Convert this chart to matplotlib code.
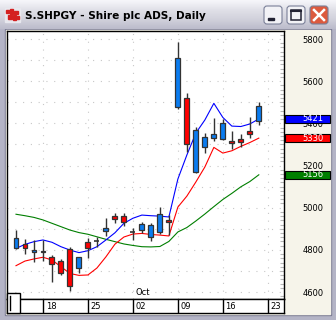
import numpy as np
import matplotlib
matplotlib.use("Agg")
import matplotlib.pyplot as plt
from matplotlib.patches import Rectangle, FancyBboxPatch

# trading days shown (Sep 13 - Oct 20, 2006)
dates = ["2006-09-13", "2006-09-14", "2006-09-15", "2006-09-18", "2006-09-19",
         "2006-09-20", "2006-09-21", "2006-09-22", "2006-09-25", "2006-09-26",
         "2006-09-27", "2006-09-28", "2006-09-29", "2006-10-02", "2006-10-03",
         "2006-10-04", "2006-10-05", "2006-10-06", "2006-10-09", "2006-10-10",
         "2006-10-11", "2006-10-12", "2006-10-13", "2006-10-16", "2006-10-17",
         "2006-10-18", "2006-10-19", "2006-10-20"]

opens = [4807, 4826, 4788, 4790, 4767, 4748, 4803, 4712, 4836, 4843,
         4891, 4960, 4960, 4886, 4894, 4862, 4886, 4942, 5479, 5519,
         5168, 5286, 5329, 5324, 5316, 5326, 5364, 5412]
highs = [4894, 4850, 4847, 4847, 4776, 4755, 4815, 4767, 4855, 4862,
         4950, 4973, 4973, 4905, 4933, 4926, 5002, 4965, 5787, 5542,
         5384, 5353, 5424, 5421, 5364, 5349, 5429, 5500]
lows = [4803, 4779, 4744, 4747, 4649, 4681, 4606, 4692, 4760, 4815,
        4866, 4926, 4913, 4847, 4878, 4843, 4875, 4870, 5468, 5265,
        5163, 5258, 5318, 5319, 5278, 5289, 5329, 5391]
closes = [4855, 4807, 4799, 4796, 4733, 4689, 4628, 4765, 4807, 4843,
          4902, 4945, 4931, 4886, 4923, 4918, 4970, 4930, 5708, 5302,
          5368, 5334, 5349, 5402, 5305, 5310, 5351, 5482]

ma_blue = [4807, 4826, 4839, 4847, 4836, 4815, 4799, 4787, 4796, 4815,
           4847, 4881, 4926, 4950, 4965, 4962, 4960, 4956, 5136, 5250,
           5354, 5416, 5495, 5428, 5387, 5385, 5397, 5421]
ma_red = [4725, 4747, 4757, 4765, 4752, 4720, 4688, 4679, 4681, 4714,
          4767, 4827, 4861, 4875, 4878, 4873, 4870, 4866, 5003, 5055,
          5122, 5193, 5286, 5259, 5270, 5291, 5309, 5330]
ma_green = [4969, 4962, 4954, 4942, 4926, 4910, 4894, 4882, 4874, 4862,
            4850, 4839, 4828, 4821, 4815, 4814, 4816, 4840, 4885, 4906,
            4937, 4970, 5005, 5039, 5068, 5099, 5124, 5156]

week_ticks = ["2006-09-18", "2006-09-25", "2006-10-02", "2006-10-09",
              "2006-10-16", "2006-10-23"]
week_labels = ["18", "25", "02", "09", "16", "23"]
y_ticks = [4600, 4800, 5000, 5200, 5400, 5600, 5800]

W, H = 336, 320
BLUE, RED, GREEN = "#0000ff", "#ff0000", "#007f00"
CANDLE_UP, CANDLE_DN = "#0a7cf0", "#ff0000"
CREAM = "#f6f4ea"

def fx(x):
    return x / W

def fy(y):
    return 1 - y / H

fig = plt.figure(figsize=(W / 100, H / 100), dpi=100)

# window chrome, drawn in pixel coordinates
bg = fig.add_axes([0, 0, 1, 1])
bg.set_xlim(0, W)
bg.set_ylim(H, 0)
bg.axis("off")
bg.add_patch(Rectangle((0, 0), W, H, color="#b4b4c6"))
bg.add_patch(Rectangle((5, 29), W - 10, H - 34, color="#7c7c94"))
bg.add_patch(Rectangle((6, 30), W - 12, H - 36, color=CREAM))
grad = np.linspace(0, 1, 30).reshape(-1, 1)
bg.imshow(grad, extent=(0, W, 29, 0), cmap=matplotlib.colors.LinearSegmentedColormap.from_list(
    "tb", ["#f6f6fa", "#e0e0e8", "#d2d2dc", "#bcbccc"]), aspect="auto", zorder=1)
# icon
bg.add_patch(Rectangle((5, 8), 15, 14, color="#e8e8ee", zorder=2))
for (ix, iy, iw, ih) in [(6, 10, 3, 3), (10, 9, 3, 5), (14, 11, 4, 3), (8, 15, 4, 4), (13, 15, 3, 5), (17, 16, 2, 3)]:
    bg.add_patch(Rectangle((ix, iy), iw, ih, color="#d42020", zorder=3))
bg.text(25, 16, "S.SHPGY - Shire plc ADS, Daily", fontsize=7.6, fontweight="bold",
        ha="left", va="center", color="black", zorder=3)
# buttons
for bx, face in [(264, "#f2f2f6"), (287, "#f2f2f6"), (310, "#dc5a3e")]:
    bg.add_patch(FancyBboxPatch((bx, 6), 18, 18, boxstyle="round,pad=0,rounding_size=3",
                                fc=face, ec="#7a7f98", lw=0.8, zorder=3))
bg.add_patch(Rectangle((268, 18), 6, 2, color="#222233", zorder=4))
bg.add_patch(Rectangle((291, 10), 10, 10, fill=False, ec="#222233", lw=1.1, zorder=4))
bg.plot([291, 301], [11, 11], color="#222233", lw=1.5, zorder=4)
bg.plot([314, 324], [10, 20], color="white", lw=1.8, zorder=4)
bg.plot([314, 324], [20, 10], color="white", lw=1.8, zorder=4)

# main price panel
x = np.arange(len(dates))
d0 = np.datetime64(dates[0])
tick_pos = [np.busday_count(d0, np.datetime64(d)) for d in week_ticks]
oct_pos = np.busday_count(d0, np.datetime64("2006-10-02"))

ax = fig.add_axes([fx(7), fy(299), fx(284 - 7), (299 - 31) / H])
ax.set_facecolor("white")
ax.set_xlim(-1.0, 29.8)
ax.set_ylim(4567, 5838)
for s in ax.spines.values():
    s.set_color("black")
    s.set_linewidth(1)

for yv in range(4600, 5900, 100):
    ax.axhline(yv, color="#c8c8c8", lw=0.8, ls=(0, (1, 6)), zorder=0)
for tp in tick_pos:
    ax.axvline(tp, color="#c8c8c8", lw=0.8, ls=(0, (1, 6)), zorder=0)

ax.plot(x, ma_green, color=GREEN, lw=0.8, zorder=2)
ax.plot(x, ma_red, color=RED, lw=0.8, zorder=2)
ax.plot(x, ma_blue, color=BLUE, lw=0.8, zorder=2)

bw = 0.55
for i in range(len(dates)):
    o, h, l, c = opens[i], highs[i], lows[i], closes[i]
    ax.vlines(x[i], l, h, color="#333333", lw=1.0, zorder=3)
    lo, hi = min(o, c), max(o, c)
    face = CANDLE_UP if c > o else CANDLE_DN
    if hi - lo < 6:
        ax.hlines((o + c) / 2, x[i] - bw / 2, x[i] + bw / 2, color="#333333", lw=1.2, zorder=4)
    else:
        ax.add_patch(Rectangle((x[i] - bw / 2, lo), bw, hi - lo, fc=face,
                               ec="#333333", lw=0.9, zorder=4))

ax.text(oct_pos + 0.3, 4575, "Oct", fontsize=6, ha="left", va="bottom", color="black")

ax.set_xticks([])
ax.yaxis.tick_right()
ax.set_yticks(y_ticks)
ax.set_yticklabels([str(v) for v in y_ticks], fontsize=6)
ax.set_yticks(np.arange(4580, 5840, 20), minor=True)
ax.tick_params(axis="y", which="major", length=0, pad=13.5)
ax.tick_params(axis="y", which="minor", direction="in", length=3, color="#b8b8b8", width=0.8)

# date strip
ax2 = fig.add_axes([fx(7), fy(313), fx(284 - 7), (313 - 299) / H])
ax2.set_facecolor("white")
ax2.set_xlim(ax.get_xlim())
ax2.set_ylim(0, 1)
ax2.set_xticks([])
ax2.set_yticks([])
for s in ax2.spines.values():
    s.set_color("black")
    s.set_linewidth(1)
for tp, lab in zip(tick_pos, week_labels):
    ax2.axvline(tp, ymin=0.1, ymax=1, color="black", lw=1)
    ax2.text(tp + 0.3, 0.45, lab, fontsize=6, ha="left", va="center", color="black")

# overlay in pixel coordinates: last-value boxes and scroll box
top = fig.add_axes([0, 0, 1, 1], zorder=10)
top.set_xlim(0, W)
top.set_ylim(H, 0)
top.axis("off")
top.patch.set_alpha(0)
for val, col in [(ma_blue[-1], BLUE), (ma_red[-1], RED), (ma_green[-1], GREEN)]:
    yp = H - ax.transData.transform((0, val))[1]
    top.add_patch(Rectangle((285, yp - 4.2), 45, 8.4, fc=col, ec="black", lw=0.8))
    top.text(302.5, yp, f"{val}", fontsize=6, color="white", ha="left", va="center")

top.add_patch(Rectangle((7, 293), 13, 20, fc="white", ec="black", lw=1))
top.plot([9.5, 9.5], [296, 310], color="black", lw=1)

fig.savefig("out.png", dpi=100)
